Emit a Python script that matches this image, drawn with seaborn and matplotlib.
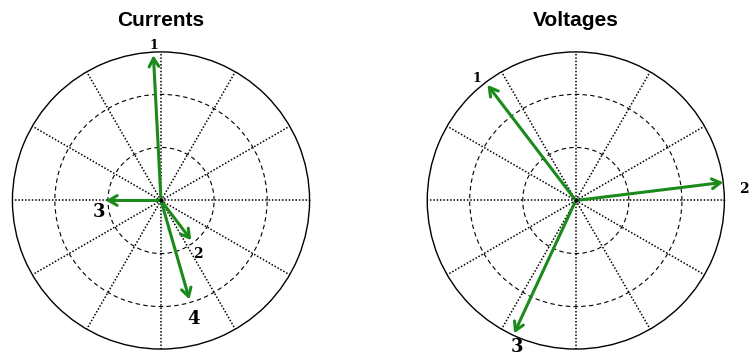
import numpy as np
import matplotlib
matplotlib.use("Agg")
import matplotlib.pyplot as plt
import seaborn as sns

sns.set_style("white")
plt.rcParams['font.family'] = ['Liberation Sans', 'DejaVu Sans']
plt.rcParams['text.color'] = 'black'

# ---- data (angles in degrees, magnitudes in grid units) ----
current_labels = ["1", "2", "3", "4"]
current_angles = [93.0, -52.7, 180.0, -74.0]
current_mags = [1.37, 0.47, 0.52, 0.97]

voltage_labels = ["1", "2", "3"]
voltage_angles = [127.4, 7.0, 245.1]
voltage_mags = [1.37, 1.40, 1.38]

titles = ["Currents", "Voltages"]
r_ticks = [0.5, 1.0]
r_max = 1.4

# label styling
current_label_sizes = [9, 10, 13, 13]
voltage_label_sizes = [9, 10, 13]
current_label_off = [(0, 7), (5, -10), (-5, -8), (3, -14)]
voltage_label_off = [(-8, 5), (15, -5), (2, -10)]

arrow_color = "#1b8a1b"

fig = plt.figure(figsize=(7.52, 3.58), dpi=100)
ax1 = fig.add_axes([0.0146, 0.025, 0.399, 0.83], projection="polar")
ax2 = fig.add_axes([0.5662, 0.025, 0.399, 0.83], projection="polar")


def setup(ax, title):
    ax.set_ylim(0, r_max)
    ax.set_rticks(r_ticks)
    ax.set_yticklabels([])
    ax.set_thetagrids(np.arange(0, 360, 30), labels=[])
    ax.xaxis.grid(True, linestyle=(0, (1, 1.2)), color="black", linewidth=1.1)
    ax.yaxis.grid(True, linestyle=(0, (4, 3)), color="black", linewidth=0.8)
    ax.spines["polar"].set_color("black")
    ax.spines["polar"].set_linewidth(1.0)
    ax.set_facecolor("white")
    ax.set_title(title, fontsize=15, fontweight="bold", pad=19, color="black")


def draw(ax, labels, angles, mags, sizes, offs):
    ax.plot([0], [0], marker="o", markersize=2, color="black", zorder=5)
    for lab, ang, m, s, off in zip(labels, angles, mags, sizes, offs):
        th = np.deg2rad(ang)
        ax.annotate("", xy=(th, m), xytext=(0, 0),
                    arrowprops=dict(arrowstyle="->,head_length=0.6,head_width=0.35",
                                    color=arrow_color, lw=2.2,
                                    shrinkA=0, shrinkB=0),
                    annotation_clip=False)
        ax.annotate(lab, xy=(th, m), xytext=off, textcoords="offset points",
                    ha="center", va="center", fontsize=s, fontweight="bold",
                    color="black", family=["DejaVu Serif"], annotation_clip=False)


setup(ax1, titles[0])
setup(ax2, titles[1])
draw(ax1, current_labels, current_angles, current_mags, current_label_sizes, current_label_off)
draw(ax2, voltage_labels, voltage_angles, voltage_mags, voltage_label_sizes, voltage_label_off)

fig.savefig("out.png", dpi=100, facecolor="white")
